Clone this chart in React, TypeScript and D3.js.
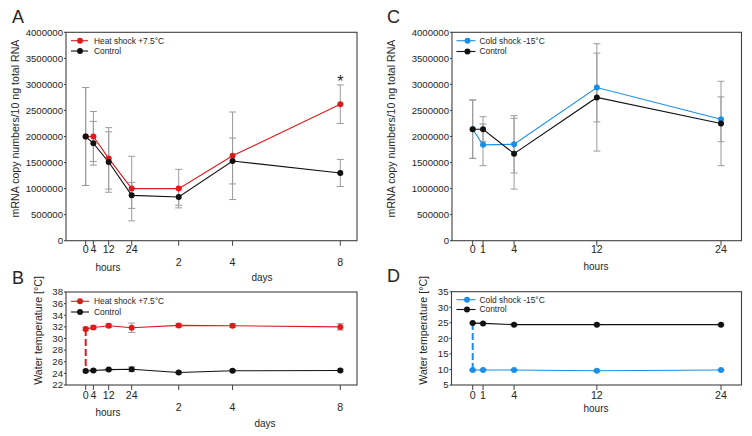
import React from "react";
import * as d3 from "d3";

const FONT = "'Liberation Sans', Arial, Helvetica, sans-serif";
const RED = "#e0191c";
const BLUE = "#1b8fe6";
const BLACK = "#111111";
const GREY = "#9b9b9b";
const AXIS = "#404040";
const TEXT = "#262626";

// ---- Panels A & B: time points in hours (48/96/192 h = 2/4/8 days)
const timeAB = [0, 4, 12, 24, 48, 96, 192];
const hourTicksAB = [0, 4, 12, 24];
const hourLabelsAB = ["0", "4", "12", "24"];
const dayTicksAB = [48, 96, 192];
const dayLabelsAB = ["2", "4", "8"];

const heatMRNA = [2.0e6, 2.0e6, 1.58e6, 1.0e6, 1.0e6, 1.63e6, 2.62e6];
const heatMRNAErr = [0.94e6, 0.48e6, 0.59e6, 0.62e6, 0.37e6, 0.84e6, 0.37e6];
const ctrlAMRNA = [2.0e6, 1.87e6, 1.51e6, 0.87e6, 0.84e6, 1.53e6, 1.3e6];
const ctrlAMRNAErr = [0.94e6, 0.42e6, 0.58e6, 0.25e6, 0.16e6, 0.44e6, 0.26e6];

const heatTemp = [31.65, 31.9, 32.2, 31.85, 32.25, 32.2, 32.0];
const heatTempErr = [0.3, 0.3, 0.3, 0.8, 0.3, 0.3, 0.55];
const ctrlBTemp = [24.4, 24.5, 24.65, 24.7, 24.15, 24.45, 24.5];
const ctrlBTempErr = [0.2, 0.2, 0.2, 0.4, 0.2, 0.2, 0.2];

// ---- Panels C & D: time points in hours
const timeCD = [0, 1, 4, 12, 24];
const hourLabelsCD = ["0", "1", "4", "12", "24"];

const coldMRNA = [2.14e6, 1.84e6, 1.85e6, 2.94e6, 2.33e6];
const coldMRNAErr = [0.56e6, 0.4e6, 0.55e6, 0.66e6, 0.43e6];
const ctrlCMRNA = [2.14e6, 2.14e6, 1.67e6, 2.75e6, 2.25e6];
const ctrlCMRNAErr = [0.56e6, 0.24e6, 0.68e6, 1.03e6, 0.81e6];

const coldTemp = [9.8, 9.8, 9.8, 9.6, 9.8];
const coldTempErr = [0.2, 0.2, 0.2, 0.2, 0.2];
const ctrlDTemp = [24.9, 24.8, 24.4, 24.4, 24.4];
const ctrlDTempErr = [0.2, 0.2, 0.2, 0.2, 0.2];

const mrnaTicks = d3.range(0, 4000001, 500000);
const tempTicksB = d3.range(22, 39, 2);
const tempTicksD = d3.range(5, 36, 5);

type Series = { xs: number[]; ys: number[]; errs: number[]; color: string; label: string };

type PanelProps = {
  frame: { l: number; r: number; t: number; b: number };
  xScale: (v: number) => number;
  yScale: d3.ScaleLinear<number, number>;
  yTicks: number[];
  yTitle: string;
  yTitleX: number;
  series: Series[]; // drawn in order: first = treatment, last = control
  legend: { x0: number; x1: number; mx: number; tx: number; ys: number[] };
  xRows: { values: number[]; labels: string[]; y: number }[];
  xTitles: { text: string; x: number; y: number }[];
  letter: { text: string; x: number; y: number };
  dashed?: { x: number; y0: number; y1: number; color: string };
  asterisk?: { x: number; top: number };
};

function Panel(p: PanelProps) {
  const { frame, xScale, yScale } = p;
  const allX = p.xRows.flatMap((r) => r.values);
  const cy = (frame.t + frame.b) / 2;
  return (
    <g>
      <text x={p.letter.x} y={p.letter.y} fontSize={18} fontFamily={FONT} fill={TEXT}>
        {p.letter.text}
      </text>
      {/* y ticks */}
      {p.yTicks.map((t) => (
        <g key={"y" + t}>
          <line x1={frame.l - 2} x2={frame.l} y1={yScale(t)} y2={yScale(t)} stroke={AXIS} />
          <text
            x={frame.l - 3}
            y={yScale(t)}
            dy="0.35em"
            textAnchor="end"
            fontSize={9.6}
            fontFamily={FONT}
            fill={TEXT}
          >
            {d3.format("d")(t)}
          </text>
        </g>
      ))}
      <text
        transform={`translate(${p.yTitleX},${cy - 8}) rotate(-90)`}
        textAnchor="middle"
        dy="0.35em"
        fontSize={10.6}
        fontFamily={FONT}
        fill={TEXT}
      >
        {p.yTitle}
      </text>
      {/* x ticks */}
      {allX.map((v, i) => (
        <line key={"xt" + i} x1={xScale(v)} x2={xScale(v)} y1={frame.b} y2={frame.b + 5} stroke={AXIS} />
      ))}
      {p.xRows.map((row, ri) =>
        row.values.map((v, i) => (
          <text
            key={"xl" + ri + "-" + i}
            x={xScale(v)}
            y={row.y}
            textAnchor="middle"
            fontSize={10.6}
            fontFamily={FONT}
            fill={TEXT}
          >
            {row.labels[i]}
          </text>
        ))
      )}
      {p.xTitles.map((t, i) => (
        <text key={"xtt" + i} x={t.x} y={t.y} textAnchor="middle" fontSize={10} fontFamily={FONT} fill={TEXT}>
          {t.text}
        </text>
      ))}
      {/* error bars */}
      {p.series.map((s, si) =>
        s.ys.map((v, i) => {
          const x = xScale(s.xs[i]);
          const y0 = yScale(v - s.errs[i]);
          const y1 = yScale(v + s.errs[i]);
          return (
            <g key={"e" + si + "-" + i} stroke={GREY} strokeWidth={1}>
              <line x1={x} x2={x} y1={y0} y2={y1} />
              <line x1={x - 3.5} x2={x + 3.5} y1={y0} y2={y0} />
              <line x1={x - 3.5} x2={x + 3.5} y1={y1} y2={y1} />
            </g>
          );
        })
      )}
      {p.dashed && (
        <line
          x1={p.dashed.x}
          x2={p.dashed.x}
          y1={p.dashed.y0}
          y2={p.dashed.y1}
          stroke={p.dashed.color}
          strokeWidth={2}
          strokeDasharray="7,3"
        />
      )}
      {/* lines */}
      {p.series.map((s, si) => {
        const line = d3
          .line<number>()
          .x((_, i) => xScale(s.xs[i]))
          .y((d) => yScale(d));
        return <path key={"l" + si} d={line(s.ys) || ""} fill="none" stroke={s.color} strokeWidth={1.1} />;
      })}
      {/* markers */}
      {p.series.map((s, si) =>
        s.ys.map((v, i) => (
          <circle key={"m" + si + "-" + i} cx={xScale(s.xs[i])} cy={yScale(v)} r={3} fill={s.color} />
        ))
      )}
      {p.asterisk && (
        <text x={p.asterisk.x} y={p.asterisk.top + 2} textAnchor="middle" fontSize={16} fontFamily={FONT} fill={TEXT}>
          *
        </text>
      )}
      {/* legend */}
      {p.series.map((s, si) => (
        <g key={"lg" + si}>
          <line x1={p.legend.x0} x2={p.legend.x1} y1={p.legend.ys[si]} y2={p.legend.ys[si]} stroke={s.color} strokeWidth={1.1} />
          <circle cx={p.legend.mx} cy={p.legend.ys[si]} r={3} fill={s.color} />
          <text x={p.legend.tx} y={p.legend.ys[si]} dy="0.35em" fontSize={8.4} fontFamily={FONT} fill={TEXT}>
            {s.label}
          </text>
        </g>
      ))}
      {/* frame */}
      <rect
        x={frame.l}
        y={frame.t}
        width={frame.r - frame.l}
        height={frame.b - frame.t}
        fill="none"
        stroke={AXIS}
        strokeWidth={1.1}
      />
    </g>
  );
}

export default function App() {
  const xAB = d3.scaleLinear().domain([0, 24, 48, 192]).range([85.7, 131.7, 178.7, 340.3]);
  const xCD = d3.scaleLinear().domain([0, 24]).range([472.7, 721]);

  const fA = { l: 66, r: 357, t: 32.3, b: 240.7 };
  const fB = { l: 66, r: 357, t: 292, b: 385 };
  const fC = { l: 452, r: 741.5, t: 32.3, b: 240.7 };
  const fD = { l: 451.5, r: 741.5, t: 291.7, b: 385 };

  const yA = d3.scaleLinear().domain([0, 4000000]).range([fA.b, fA.t]);
  const yB = d3.scaleLinear().domain([22, 38]).range([fB.b, fB.t]);
  const yC = d3.scaleLinear().domain([0, 4000000]).range([fC.b, fC.t]);
  const yD = d3.scaleLinear().domain([5, 35]).range([fD.b, fD.t]);

  const mrnaTitle = "mRNA copy numbers/10 ng total RNA";
  const tempTitle = "Water temperature [°C]";

  return (
    <svg
      width={752}
      height={436}
      style={{ position: "absolute", left: 0, top: 0, background: "#fff" }}
    >
      <rect width={752} height={436} fill="#fff" />
      <Panel
        frame={fA}
        xScale={xAB}
        yScale={yA}
        yTicks={mrnaTicks}
        yTitle={mrnaTitle}
        yTitleX={15}
        series={[
          { xs: timeAB, ys: heatMRNA, errs: heatMRNAErr, color: RED, label: "Heat shock +7.5°C" },
          { xs: timeAB, ys: ctrlAMRNA, errs: ctrlAMRNAErr, color: BLACK, label: "Control" },
        ]}
        legend={{ x0: 71, x1: 88, mx: 80, tx: 94, ys: [40.7, 51] }}
        xRows={[
          { values: hourTicksAB, labels: hourLabelsAB, y: 253 },
          { values: dayTicksAB, labels: dayLabelsAB, y: 265.5 },
        ]}
        xTitles={[
          { text: "hours", x: 108, y: 270.5 },
          { text: "days", x: 262, y: 281 },
        ]}
        letter={{ text: "A", x: 12, y: 23 }}
        asterisk={{ x: xAB(timeAB[6]), top: yA(heatMRNA[6] + heatMRNAErr[6]) }}
      />
      <Panel
        frame={fB}
        xScale={xAB}
        yScale={yB}
        yTicks={tempTicksB}
        yTitle={tempTitle}
        yTitleX={38.5}
        series={[
          { xs: timeAB, ys: heatTemp, errs: heatTempErr, color: RED, label: "Heat shock +7.5°C" },
          { xs: timeAB, ys: ctrlBTemp, errs: ctrlBTempErr, color: BLACK, label: "Control" },
        ]}
        legend={{ x0: 71, x1: 89, mx: 80, tx: 94, ys: [301.3, 312] }}
        xRows={[
          { values: hourTicksAB, labels: hourLabelsAB, y: 399 },
          { values: dayTicksAB, labels: dayLabelsAB, y: 410.5 },
        ]}
        xTitles={[
          { text: "hours", x: 108, y: 416 },
          { text: "days", x: 265, y: 427 },
        ]}
        letter={{ text: "B", x: 12, y: 284 }}
        dashed={{ x: xAB(0), y0: yB(heatTemp[0]), y1: yB(ctrlBTemp[0]), color: RED }}
      />
      <Panel
        frame={fC}
        xScale={xCD}
        yScale={yC}
        yTicks={mrnaTicks}
        yTitle={mrnaTitle}
        yTitleX={391}
        series={[
          { xs: timeCD, ys: coldMRNA, errs: coldMRNAErr, color: BLUE, label: "Cold shock -15°C" },
          { xs: timeCD, ys: ctrlCMRNA, errs: ctrlCMRNAErr, color: BLACK, label: "Control" },
        ]}
        legend={{ x0: 456.5, x1: 475.5, mx: 467.5, tx: 479.5, ys: [40.7, 51.5] }}
        xRows={[{ values: timeCD, labels: hourLabelsCD, y: 253 }]}
        xTitles={[{ text: "hours", x: 596, y: 269.5 }]}
        letter={{ text: "C", x: 387, y: 23 }}
      />
      <Panel
        frame={fD}
        xScale={xCD}
        yScale={yD}
        yTicks={tempTicksD}
        yTitle={tempTitle}
        yTitleX={423}
        series={[
          { xs: timeCD, ys: coldTemp, errs: coldTempErr, color: BLUE, label: "Cold shock -15°C" },
          { xs: timeCD, ys: ctrlDTemp, errs: ctrlDTempErr, color: BLACK, label: "Control" },
        ]}
        legend={{ x0: 456.5, x1: 475.5, mx: 467, tx: 479.5, ys: [299.7, 309.5] }}
        xRows={[{ values: timeCD, labels: hourLabelsCD, y: 399 }]}
        xTitles={[{ text: "hours", x: 596, y: 412 }]}
        letter={{ text: "D", x: 387, y: 282 }}
        dashed={{ x: xCD(0), y0: yD(coldTemp[0]), y1: yD(ctrlDTemp[0]), color: BLUE }}
      />
    </svg>
  );
}
